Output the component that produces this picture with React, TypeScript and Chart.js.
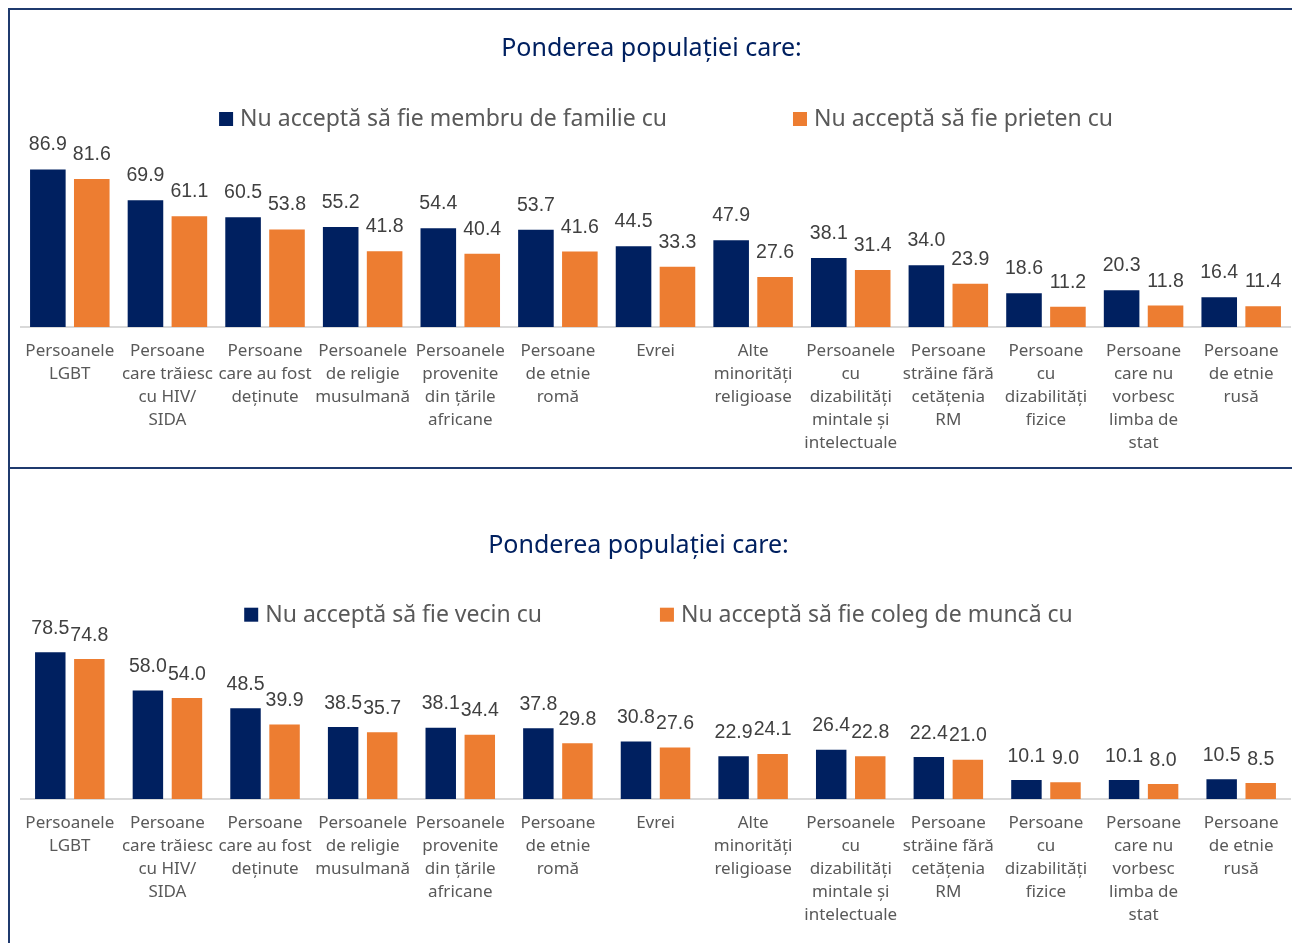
import React, { useEffect, useRef } from "react";
import { Chart, registerables } from "chart.js";

Chart.register(...registerables);

const categories: string[][] = [
  ["Persoanele", "LGBT"],
  ["Persoane", "care trăiesc", "cu HIV/", "SIDA"],
  ["Persoane", "care au fost", "deținute"],
  ["Persoanele", "de religie", "musulmană"],
  ["Persoanele", "provenite", "din țările", "africane"],
  ["Persoane", "de etnie", "romă"],
  ["Evrei"],
  ["Alte", "minorități", "religioase"],
  ["Persoanele", "cu", "dizabilități", "mintale și", "intelectuale"],
  ["Persoane", "străine fără", "cetățenia", "RM"],
  ["Persoane", "cu", "dizabilități", "fizice"],
  ["Persoane", "care nu", "vorbesc", "limba de", "stat"],
  ["Persoane", "de etnie", "rusă"],
];

const titleText = "Ponderea populației care:";

const familyLabel = "Nu acceptă să fie membru de familie cu";
const friendLabel = "Nu acceptă să fie prieten cu";
const neighborLabel = "Nu acceptă să fie vecin cu";
const colleagueLabel = "Nu acceptă să fie coleg de muncă cu";

const familyValues = [86.9, 69.9, 60.5, 55.2, 54.4, 53.7, 44.5, 47.9, 38.1, 34.0, 18.6, 20.3, 16.4];
const friendValues = [81.6, 61.1, 53.8, 41.8, 40.4, 41.6, 33.3, 27.6, 31.4, 23.9, 11.2, 11.8, 11.4];
const neighborValues = [78.5, 58.0, 48.5, 38.5, 38.1, 37.8, 30.8, 22.9, 26.4, 22.4, 10.1, 10.1, 10.5];
const colleagueValues = [74.8, 54.0, 39.9, 35.7, 34.4, 29.8, 27.6, 24.1, 22.8, 21.0, 9.0, 8.0, 8.5];

const BLUE = "#002060";
const ORANGE = "#ED7D31";
const BORDER = "#1f3a6e";

const headerPlugin = {
  id: "header",
  afterDraw(chart: any, _args: any, opts: any) {
    const ctx = chart.ctx as CanvasRenderingContext2D;
    ctx.save();
    ctx.textBaseline = "alphabetic";
    ctx.textAlign = "center";
    ctx.font = `${opts.titleSize}px "Noto Sans"`;
    ctx.fillStyle = opts.titleColor;
    ctx.fillText(opts.title, opts.titleX, opts.titleY);

    ctx.font = `${opts.legendSize}px "Noto Sans"`;
    const box = 14;
    const sp = 7;
    const items = chart.data.datasets.map((ds: any) => ({
      text: ds.label as string,
      color: ds.backgroundColor as string,
      w: ctx.measureText(ds.label).width,
    }));
    const total =
      items.reduce((s: number, it: any) => s + box + sp + it.w, 0) + opts.legendGap * (items.length - 1);
    let x = opts.legendX - total / 2;
    ctx.textAlign = "left";
    items.forEach((it: any) => {
      ctx.fillStyle = it.color;
      ctx.fillRect(x, opts.legendY - box, box, box);
      ctx.fillStyle = opts.legendColor;
      ctx.fillText(it.text, x + box + sp, opts.legendY);
      x += box + sp + it.w + opts.legendGap;
    });
    ctx.restore();
  },
};

const valueLabelPlugin = {
  id: "valueLabels",
  afterDatasetsDraw(chart: any, _args: any, opts: any) {
    const ctx = chart.ctx as CanvasRenderingContext2D;
    ctx.save();
    ctx.font = `${opts.size}px "Liberation Sans"`;
    ctx.fillStyle = opts.color;
    ctx.textAlign = "center";
    ctx.textBaseline = "alphabetic";
    chart.data.datasets.forEach((ds: any, di: number) => {
      const meta = chart.getDatasetMeta(di);
      meta.data.forEach((el: any, i: number) => {
        const v = ds.data[i] as number;
        ctx.fillText(v.toFixed(1), el.x, el.y - opts.offset);
      });
    });
    ctx.restore();
  },
};

interface PanelProps {
  width: number;
  height: number;
  labelA: string;
  labelB: string;
  valuesA: number[];
  valuesB: number[];
  yMax: number;
  padTop: number;
  padBottom: number;
  catPct: number;
  barPct: number;
  titleX: number;
  titleY: number;
  legendX: number;
  legendY: number;
  legendGap: number;
  labelOffset: number;
}

function Panel(p: PanelProps) {
  const ref = useRef<HTMLCanvasElement | null>(null);
  useEffect(() => {
    if (!ref.current) return;
    const chart = new Chart(ref.current, {
      type: "bar",
      data: {
        labels: categories,
        datasets: [
          {
            label: p.labelA,
            data: p.valuesA,
            backgroundColor: BLUE,
            categoryPercentage: p.catPct,
            barPercentage: p.barPct,
          },
          {
            label: p.labelB,
            data: p.valuesB,
            backgroundColor: ORANGE,
            categoryPercentage: p.catPct,
            barPercentage: p.barPct,
          },
        ],
      },
      options: {
        responsive: false,
        animation: false,
        events: [],
        layout: { padding: { left: 11, right: 2, top: p.padTop, bottom: p.padBottom } },
        plugins: {
          legend: { display: false },
          title: { display: false },
          tooltip: { enabled: false },
          header: {
            title: titleText,
            titleSize: 25,
            titleColor: "#002060",
            titleX: p.titleX,
            titleY: p.titleY,
            legendSize: 23,
            legendColor: "#595959",
            legendX: p.legendX,
            legendY: p.legendY,
            legendGap: p.legendGap,
          },
          valueLabels: { size: 19.5, color: "#404040", offset: p.labelOffset },
        } as any,
        scales: {
          x: {
            grid: { display: false, drawTicks: false },
            border: { display: true, color: "#d9d9d9", width: 2 },
            ticks: {
              autoSkip: false,
              maxRotation: 0,
              minRotation: 0,
              padding: 13,
              color: "#595959",
              font: { family: "Noto Sans", size: 17, lineHeight: "23px" },
            },
          },
          y: { display: false, min: 0, max: p.yMax },
        },
      },
      plugins: [headerPlugin, valueLabelPlugin],
    });
    return () => chart.destroy();
  }, []);
  return (
    <canvas
      ref={ref}
      width={p.width}
      height={p.height}
      style={{ display: "block", width: p.width, height: p.height }}
    />
  );
}

export default function App() {
  return (
    <div
      style={{
        position: "fixed",
        left: 0,
        top: 0,
        width: 1292,
        height: 943,
        overflow: "hidden",
        background: "#fff",
      }}
    >
      <div
        style={{
          position: "absolute",
          left: 8,
          top: 8,
          width: 1284,
          height: 460,
          borderLeft: `2px solid ${BORDER}`,
          borderTop: `2px solid ${BORDER}`,
          boxSizing: "border-box",
        }}
      >
        <Panel
          width={1282}
          height={458}
          labelA={familyLabel}
          labelB={friendLabel}
          valuesA={familyValues}
          valuesB={friendValues}
          yMax={100}
          padTop={135.7}
          padBottom={0}
          catPct={0.9}
          barPct={0.81}
          titleX={641.5}
          titleY={46}
          legendX={656}
          legendY={116}
          legendGap={126}
          labelOffset={19}
        />
      </div>
      <div
        style={{
          position: "absolute",
          left: 8,
          top: 467,
          width: 1284,
          height: 476,
          borderLeft: `2px solid ${BORDER}`,
          borderTop: `2px solid ${BORDER}`,
          boxSizing: "border-box",
        }}
      >
        <Panel
          width={1282}
          height={474}
          labelA={neighborLabel}
          labelB={colleagueLabel}
          valuesA={neighborValues}
          valuesB={colleagueValues}
          yMax={80}
          padTop={180.4}
          padBottom={3}
          catPct={0.8}
          barPct={0.78}
          titleX={628.5}
          titleY={84.3}
          legendX={648.5}
          legendY={152.7}
          legendGap={118}
          labelOffset={18.5}
        />
      </div>
    </div>
  );
}
